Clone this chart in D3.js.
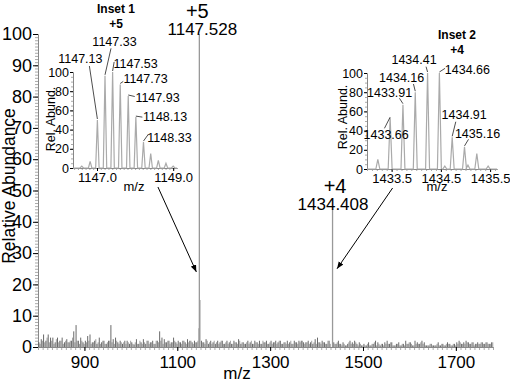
<!DOCTYPE html>
<html>
<head>
<meta charset="utf-8">
<script src="https://cdn.jsdelivr.net/npm/d3@7"></script>
<style>
  body { margin: 0; background: #fff; }
  svg { display: block; font-family: "Liberation Sans", Arial, Helvetica, sans-serif; }
</style>
</head>
<body>
<div id="chart"></div>
<script>
// ---- data ----
// main spectrum: labelled peaks [m/z, rel. abundance]
var mainPeaks = [[1146.9, 6], [1147.528, 100], [1148.6, 15], [1434.408, 44]];
var mainPeakNames = ["", "1147.528", "", "1434.408"];
var mainCharges = ["", "+5", "", "+4"];

// baseline noise, one stick every 5 m/z from 802 (taller spikes)
var noiseStart = 802, noiseStep = 5;
var noise = [
  1.5, 2.5, 4, 2, 4, 3, 3, 1.5, 3, 2, 3, 1.5, 2.5, 1.5, 2, 5, 7, 2, 3, 1.5,
  2, 3.5, 4, 1.5, 2, 1, 3, 1.5, 2, 1, 2, 7, 2.5, 3, 1.5, 2, 1, 2, 2, 1,
  1.5, 0.8, 2.5, 1, 1.5, 2.5, 1, 2, 1.5, 2, 1, 2, 5, 3, 2.5, 1.5, 2, 1.5, 3, 1.5,
  2, 1.5, 2, 1.5, 2.5, 2, 1.5, 2, 1.5, 0, 2, 1.5, 2.5, 1, 2, 1.5, 1, 2, 1.5, 2,
  1, 2, 1.5, 1, 2, 1.5, 2.5, 1, 1.5, 1, 2, 1.5, 1, 2, 1.5, 2, 1, 1.5, 2, 1,
  2, 1.5, 2, 1.5, 2, 1, 1.5, 2, 1.5, 1, 2, 1.5, 2, 2, 1.5, 1.5, 2, 1.5, 1, 2.5,
  3, 1.5, 2, 1.5, 1, 2, 0, 1.5, 1, 2, 1, 1.5, 0.5, 1, 2, 1.5, 2, 1, 1.5, 0.5,
  1, 0.5, 1.5, 0.5, 1, 2, 1.5, 0.5, 1, 1.5, 2, 1, 1.5, 0.5, 1, 1.5, 0.5, 1, 2, 1,
  1.5, 0.5, 2, 1.5, 1, 2, 1.5, 0.5, 0.5, 1, 0.5, 0.5, 1.5, 0.5, 1, 0.5, 1.5, 1, 0.5, 1,
  1.5, 2, 1, 1.5, 2, 1.5, 1, 1.5, 1, 1.5, 1, 1.5, 1, 1.5, 1, 1.5
];
// the finer fuzz in between, every 5 m/z from 804.5
var fuzzStart = 804.5;
var fuzz = [
  1, 2, 1.5, 3, 1.5, 2, 1, 2.5, 1.5, 2, 1, 2, 1.5, 2, 3, 1.5, 2, 1, 2, 1,
  1.5, 2, 1, 1.5, 2.5, 1.5, 1, 2, 1, 1.5, 2, 1.5, 1, 2, 1, 1.5, 1.5, 1, 1.5, 2,
  1, 1.5, 1, 2, 1, 1.5, 2, 1, 1.5, 1, 2, 1.5, 2, 1, 1.5, 2, 1, 1.5, 2, 1,
  1.5, 1, 2, 1, 1.5, 2, 1, 1.5, 2, 0, 1.5, 1, 2, 1.5, 1, 2, 1.5, 1, 2, 1,
  1.5, 1, 2, 1, 1.5, 1, 2, 1.5, 1, 1.5, 1, 2, 1, 1.5, 1, 1, 2, 1.5, 1, 1.5,
  1, 1.5, 1, 2, 1, 1.5, 1, 1, 2, 1, 1.5, 1, 1.5, 2, 1, 1.5, 1, 2, 1.5, 1,
  1.5, 1, 1.5, 1, 2, 1, 0, 1, 1.5, 1, 0.5, 1, 0.5, 1.5, 1, 1, 1.5, 0.5, 1, 0.5,
  0.5, 1, 0.5, 1, 1.5, 0.5, 1, 1, 0.5, 1, 1, 1.5, 0.5, 0.5, 1, 0.5, 1, 0.5, 1, 1.5,
  1, 0.5, 1, 1, 1.5, 1, 0.5, 0.5, 1, 0.5, 0.5, 1, 0.5, 1, 0.5, 1, 1, 0.5, 1, 0.5,
  1, 1.5, 1, 1, 1.5, 1, 1.5, 0.5, 1, 1, 1.5, 1, 1.5, 1, 1, 1.5
];
var mainXTicks = [900, 1100, 1300, 1500, 1700];
var mainYTicks = [0, 10, 20, 30, 40, 50, 60, 70, 80, 90, 100];

// inset 1 (+5 isotope cluster)
var inset1Peaks = [[1146.60, 2], [1146.82, 7], [1147.01, 50], [1147.21, 96], [1147.41, 100],
  [1147.61, 87], [1147.82, 75], [1148.02, 53], [1148.22, 27], [1148.41, 15],
  [1148.61, 8], [1148.81, 5], [1149.0, 2]];
var inset1Names = ["", "", "1147.13", "1147.33", "1147.53", "1147.73", "1147.93", "1148.13", "1148.33", "", "", "", ""];
var inset1XTicks = [1147.0, 1149.0];

// inset 2 (+4 isotope cluster)
var inset2Peaks = [[1433.22, 10], [1433.47, 53], [1433.73, 67], [1433.98, 80], [1434.23, 100],
  [1434.47, 100], [1434.58, 3], [1434.73, 33], [1434.98, 23], [1435.05, 4],
  [1435.23, 16], [1435.46, 3]];
var inset2Names = ["", "1433.66", "1433.91", "1434.16", "1434.41", "1434.66", "", "1434.91", "1435.16", "", "", ""];
var inset2XTicks = [1433.5, 1434.5, 1435.5];

var insetYTicks = [0, 20, 40, 60, 80, 100];

// ---- layout ----
var W = 510, H = 382;
var svg = d3.select("#chart").append("svg").attr("width", W).attr("height", H);

var x = d3.scaleLinear().domain([800, 1780]).range([38, 493]);
var y = d3.scaleLinear().domain([0, 100]).range([347, 34]);

function styleAxis(g, size, color) {
  g.select(".domain").attr("stroke", "#888");
  g.selectAll(".tick line").attr("stroke", color);
  g.selectAll(".tick text").attr("font-size", size).attr("fill", "#000")
    .attr("font-family", '"Liberation Sans", Arial, sans-serif');
}

// minor ticks first
svg.append("g").attr("transform", "translate(38,0)")
  .call(d3.axisLeft(y).tickValues(d3.range(0, 101, 1)).tickSize(3).tickSizeOuter(0).tickFormat(""))
  .call(styleAxis, 0, "#aaa");
svg.append("g").attr("transform", "translate(0,347)")
  .call(d3.axisBottom(x).tickValues(d3.range(800, 1781, 10)).tickSize(3).tickSizeOuter(0).tickFormat(""))
  .call(styleAxis, 0, "#aaa");

// major axes
svg.append("g").attr("transform", "translate(38,0)")
  .call(d3.axisLeft(y).tickValues(mainYTicks).tickSize(5).tickPadding(1).tickSizeOuter(0))
  .call(styleAxis, 18, "#000");
svg.append("g").attr("transform", "translate(0,347)")
  .call(d3.axisBottom(x).tickValues(mainXTicks).tickSize(4).tickPadding(5).tickSizeOuter(0).tickFormat(d3.format("d")))
  .call(styleAxis, 17, "#000");

svg.append("text")
  .attr("transform", "translate(15,186) rotate(-90)")
  .attr("text-anchor", "middle")
  .attr("font-size", 17.5)
  .text("Relative Abundance");

svg.append("text")
  .attr("x", 237).attr("y", 379)
  .attr("text-anchor", "middle")
  .attr("font-size", 17)
  .text("m/z");

// noise sticks (fuzz first, spikes on top)
function sticks(vals, start, color) {
  svg.append("g").selectAll("line")
    .data(vals).enter()
    .append("line")
    .attr("x1", function(d, i) { return x(start + i * noiseStep); })
    .attr("x2", function(d, i) { return x(start + i * noiseStep); })
    .attr("y1", y(0))
    .attr("y2", function(d) { return y(d); })
    .attr("stroke", color)
    .attr("stroke-width", 0.8);
}
sticks(fuzz, fuzzStart, "#888");
sticks(noise, noiseStart, "#444");

// main peaks
svg.append("g").selectAll("line")
  .data(mainPeaks).enter()
  .append("line")
  .attr("x1", function(d) { return x(d[0]); })
  .attr("x2", function(d) { return x(d[0]); })
  .attr("y1", y(0))
  .attr("y2", function(d) { return y(d[1]); })
  .attr("stroke", "#999")
  .attr("stroke-width", 1.3);

// charge state + m/z over the two big peaks
var chargeShift = { "+5": -2, "+4": 2.5 };
var nameShift = { "1147.528": 3, "1434.408": 0.5 };
mainPeaks.forEach(function(p, i) {
  if (!mainPeakNames[i]) return;
  svg.append("text")
    .attr("x", x(p[0]) + nameShift[mainPeakNames[i]])
    .attr("y", y(p[1]) + 1)
    .attr("text-anchor", "middle")
    .attr("font-size", 17)
    .text(mainPeakNames[i]);
  svg.append("text")
    .attr("x", x(p[0]) + chargeShift[mainCharges[i]])
    .attr("y", y(p[1]) - 16)
    .attr("text-anchor", "middle")
    .attr("font-size", 20)
    .text(mainCharges[i]);
});

// arrow marker
svg.append("defs").append("marker")
  .attr("id", "arrow")
  .attr("viewBox", "0 0 10 8")
  .attr("refX", 10).attr("refY", 4)
  .attr("markerWidth", 7).attr("markerHeight", 6)
  .attr("orient", "auto")
  .append("path").attr("d", "M0,0 L10,4 L0,8 z").attr("fill", "#000");

// ---- insets ----
function drawInset(cfg) {
  var xs = d3.scaleLinear().domain(cfg.domain).range(cfg.xr);
  var ys = d3.scaleLinear().domain([0, 100]).range(cfg.yr);
  var g = svg.append("g");

  g.append("g").attr("transform", "translate(" + cfg.xr[0] + ",0)")
    .call(d3.axisLeft(ys).tickValues(d3.range(0, 101, 5)).tickSize(2).tickSizeOuter(0).tickFormat(""))
    .call(styleAxis, 0, "#aaa");
  g.append("g").attr("transform", "translate(0," + cfg.yr[0] + ")")
    .call(d3.axisBottom(xs).tickValues(cfg.minor).tickSize(2).tickSizeOuter(0).tickFormat(""))
    .call(styleAxis, 0, "#aaa");
  g.append("g").attr("transform", "translate(" + cfg.xr[0] + ",0)")
    .call(d3.axisLeft(ys).tickValues(insetYTicks).tickSize(3).tickPadding(1).tickSizeOuter(0))
    .call(styleAxis, 12.5, "#000");
  g.append("g").attr("transform", "translate(0," + cfg.yr[0] + ")")
    .call(d3.axisBottom(xs).tickValues(cfg.ticks).tickSize(3).tickPadding(2).tickSizeOuter(0).tickFormat(d3.format(".1f")))
    .call(styleAxis, 13, "#000");

  // profile of the isotope peaks
  var pts = [[cfg.domain[0], 0]];
  cfg.peaks.forEach(function(p) {
    pts.push([p[0] - cfg.hw, 0], [p[0], p[1]], [p[0] + cfg.hw, 0]);
  });
  pts.push([cfg.domain[1], 0]);
  g.append("path")
    .datum(pts)
    .attr("d", d3.line().x(function(d) { return xs(d[0]); }).y(function(d) { return ys(d[1]); }))
    .attr("fill", "none")
    .attr("stroke", "#aaa")
    .attr("stroke-width", 1.2);

  // peak labels with leader lines
  var k = 0;
  cfg.peaks.forEach(function(p, i) {
    var name = cfg.names[i];
    if (!name) return;
    var o = cfg.offs[k++];
    var px = xs(p[0]), py = ys(p[1]);
    g.append("line")
      .attr("x1", px + o[2]).attr("y1", py + o[3])
      .attr("x2", px).attr("y2", py - 1)
      .attr("stroke", "#000").attr("stroke-width", 0.7);
    g.append("text")
      .attr("x", px + o[0]).attr("y", py + o[1])
      .attr("dy", "0.36em")
      .attr("text-anchor", "middle")
      .attr("font-size", 12.5)
      .text(name);
  });

  g.append("text")
    .attr("transform", "translate(" + cfg.ylab[0] + "," + cfg.ylab[1] + ") rotate(-90)")
    .attr("text-anchor", "middle")
    .attr("font-size", 12.5)
    .text("Rel. Abund.");
  g.append("text")
    .attr("x", cfg.xlab[0]).attr("y", cfg.xlab[1])
    .attr("text-anchor", "middle")
    .attr("font-size", 13)
    .text("m/z");
  g.append("text")
    .attr("x", cfg.title[0]).attr("y", cfg.title[1])
    .attr("text-anchor", "middle")
    .attr("font-size", 12).attr("font-weight", "bold")
    .text(cfg.titleText);
  g.append("text")
    .attr("x", cfg.title[0]).attr("y", cfg.title[1] + 15)
    .attr("text-anchor", "middle")
    .attr("font-size", 12).attr("font-weight", "bold")
    .text(cfg.charge);

  // arrow down to the matching peak of the main spectrum
  svg.append("line")
    .attr("x1", xs(cfg.arrowFrom)).attr("y1", ys(0) + 19)
    .attr("x2", x(cfg.arrowTo[0]) + cfg.arrowTo[2]).attr("y2", y(cfg.arrowTo[1]))
    .attr("stroke", "#000").attr("stroke-width", 1)
    .attr("marker-end", "url(#arrow)");
}

drawInset({
  domain: [1146.37, 1149.1], xr: [73, 177], yr: [168, 72],
  peaks: inset1Peaks, names: inset1Names, ticks: inset1XTicks,
  minor: d3.range(1146.4, 1149.1, 0.1), hw: 0.045,
  offs: [[-17, -62, -8, -54], [9.5, -34, 6, -27.5], [23, -9, 1.5, -10], [25.3, -5.5, 3, -3],
         [29.3, 1, 6.5, 0.5], [29.2, -1, 6.5, 0], [26, -5, 5, -8]],
  ylab: [55, 119], xlab: [134, 191], title: [116, 13],
  titleText: "Inset 1", charge: "+5",
  arrowFrom: 1148.6, arrowTo: [1147.528, 24, -3]
});

drawInset({
  domain: [1433.0, 1435.64], xr: [367, 497], yr: [169, 73],
  peaks: inset2Peaks, names: inset2Names, ticks: inset2XTicks,
  minor: d3.range(1433.0, 1435.64, 0.1), hw: 0.04,
  offs: [[-4, 16.6, -5.7, 10.2], [-13.3, -11.9, -3.5, -6.4], [-13.6, -14.4, -1.8, -8.2],
         [-13.5, -13.5, -1.5, -6.3], [28, -3.5, 5.7, -4.7], [12, -22.6, 3.6, -15.6], [13, -13.6, 4, -7.6]],
  ylab: [347, 117], xlab: [437, 191], title: [457, 39],
  titleText: "Inset 2", charge: "+4",
  arrowFrom: 1433.52, arrowTo: [1434.408, 25, 4.5]
});
</script>
</body>
</html>
